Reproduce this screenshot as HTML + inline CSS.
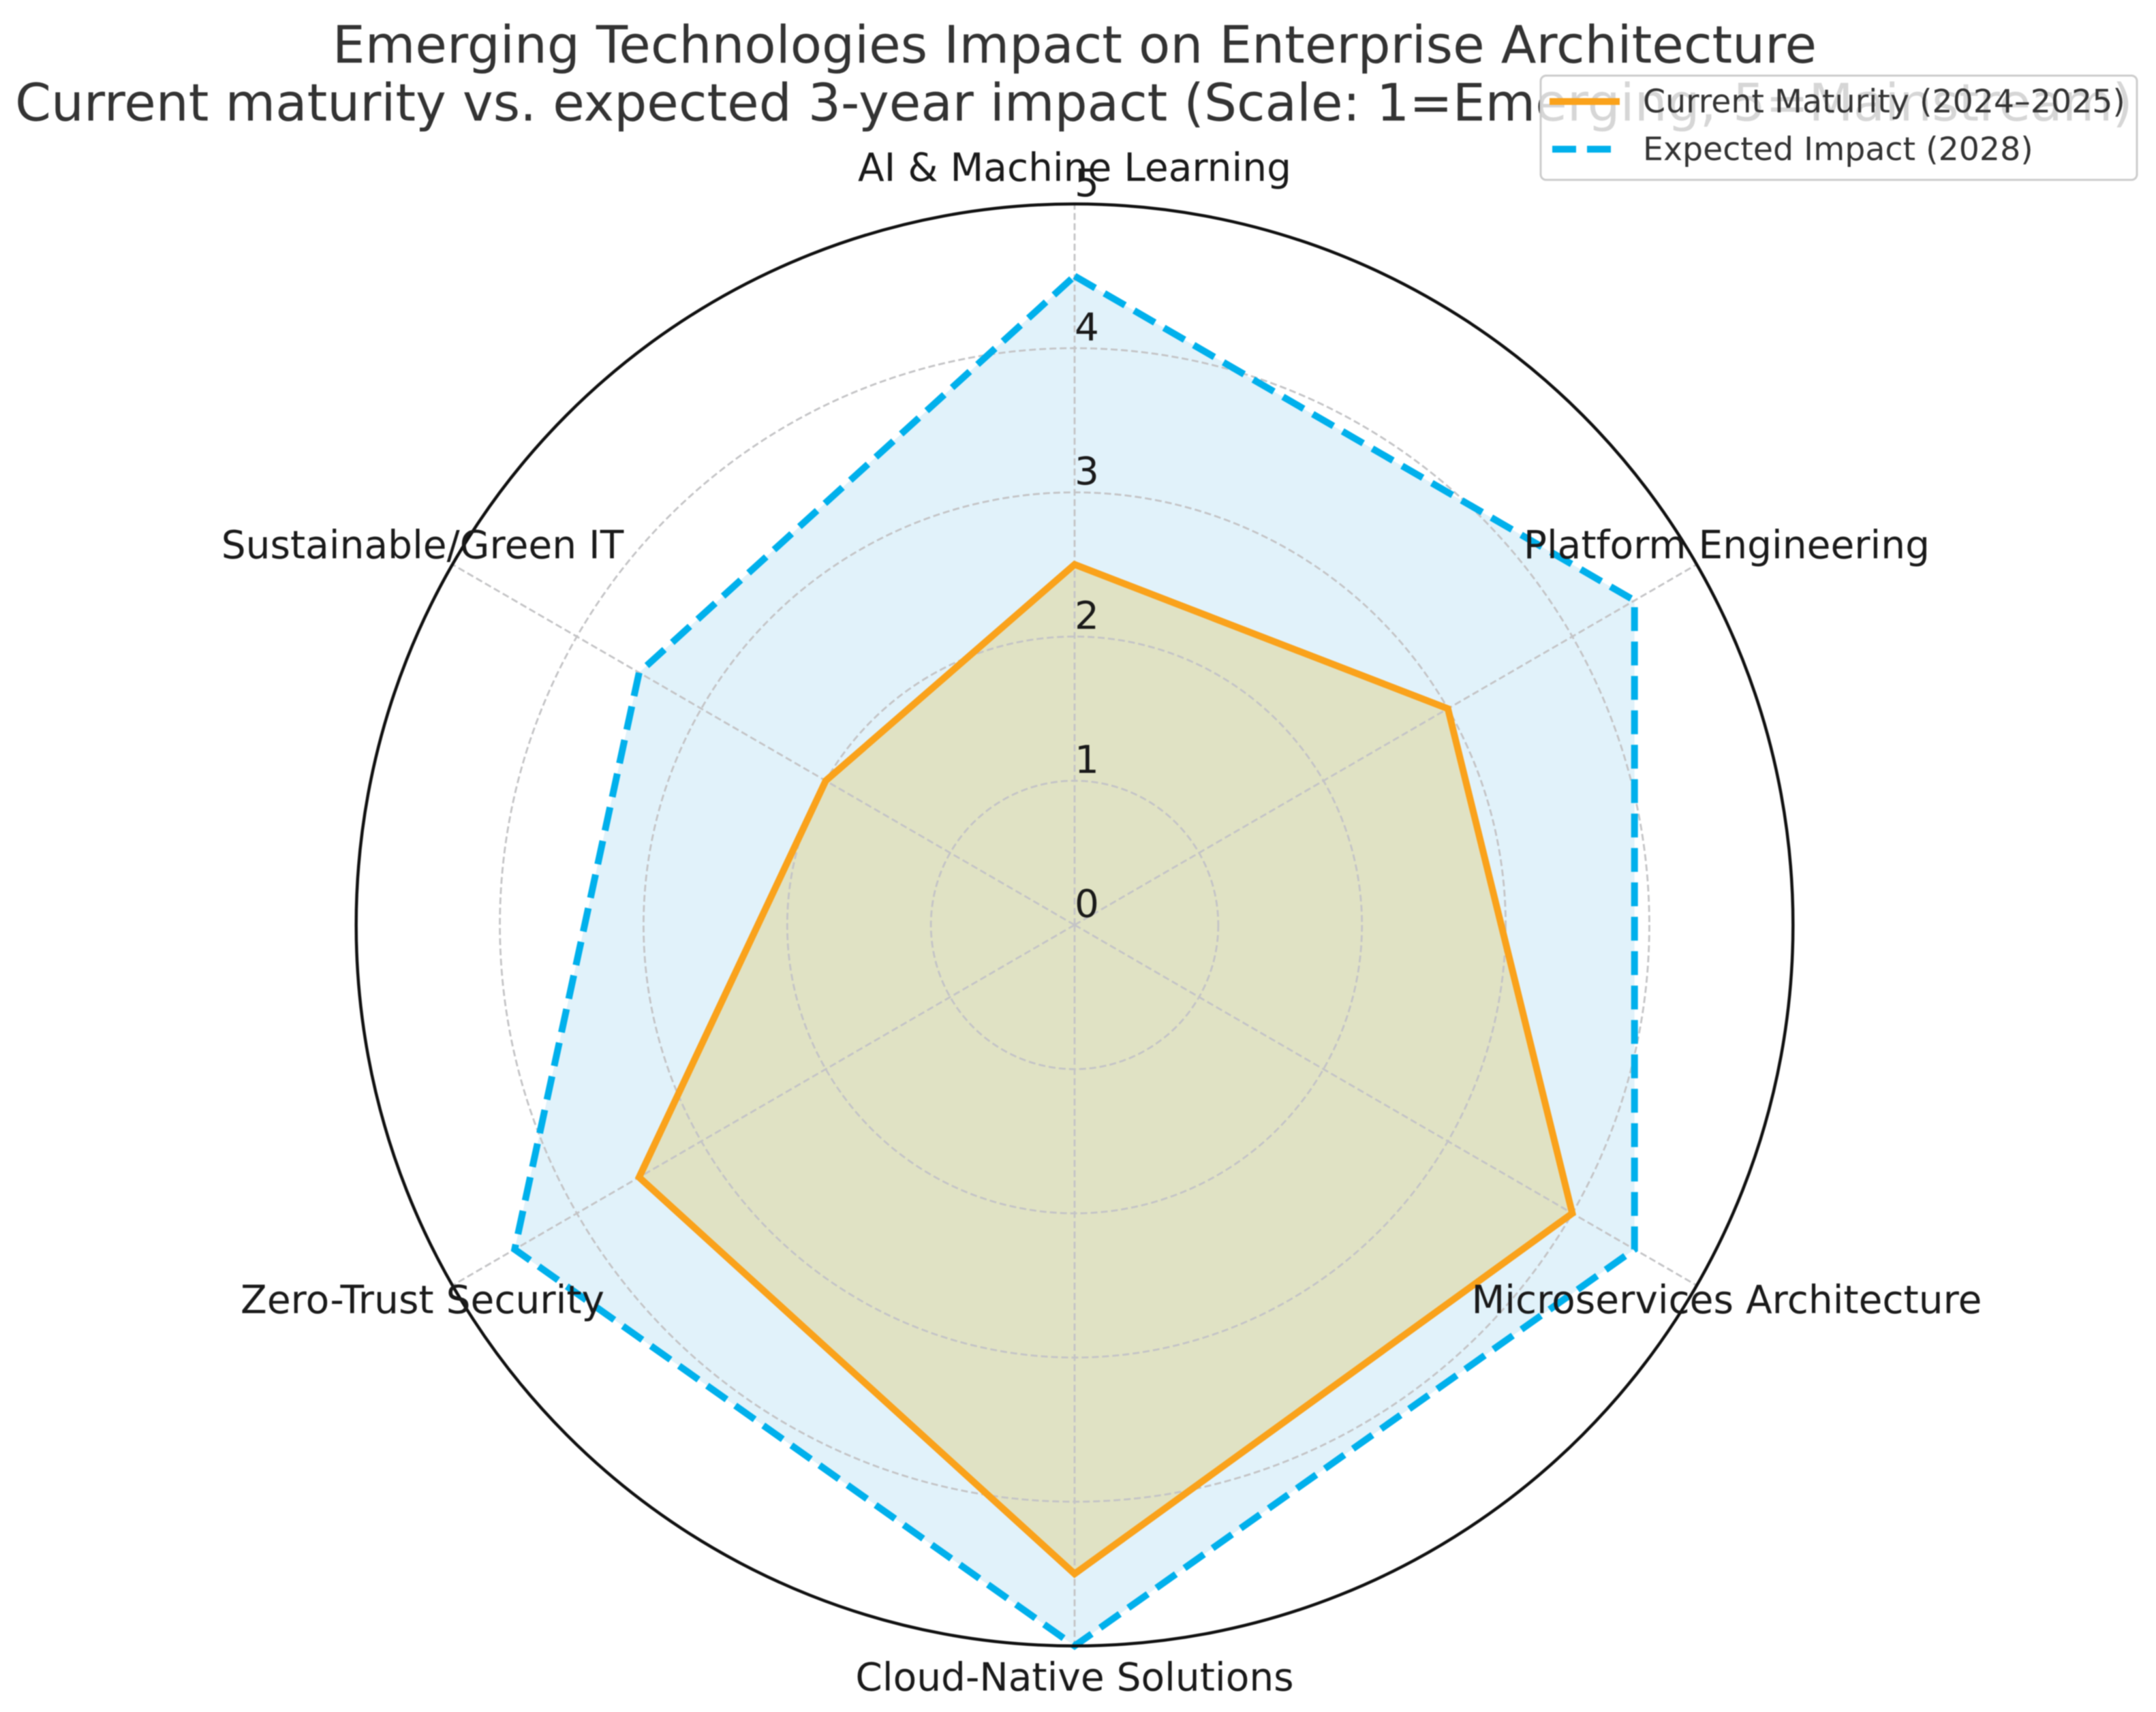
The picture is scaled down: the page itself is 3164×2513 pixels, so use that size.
<!DOCTYPE html>
<html lang="en">
<head>
<meta charset="utf-8">
<title>Emerging Technologies Impact on Enterprise Architecture</title>
<style>
html,body{margin:0;padding:0;background:#fff;}
svg{display:block;font-family:"DejaVu Sans","Liberation Sans",sans-serif;filter:blur(0.9px);}
</style>
</head>
<body>
<svg id="chart" xmlns="http://www.w3.org/2000/svg" width="3164" height="2513" viewBox="0 0 3164 2513">
  <rect x="0" y="0" width="3164" height="2513" fill="#ffffff"/>
  <g id="fills"></g>
  <g id="grid"></g>
  <g id="lines"></g>
  <ellipse id="spine" fill="none" stroke="#111111" stroke-width="4.5"/>
  <g id="ticks"></g>
  <g id="cats"></g>
  <g fill="#333333" font-size="75.7" text-anchor="middle">
    <text x="1577" y="92">Emerging Technologies Impact on Enterprise Architecture</text>
    <text x="1576" y="177">Current maturity vs. expected 3-year impact (Scale: 1=Emerging, 5=Mainstream)</text>
  </g>
  <g>
    <rect x="2261" y="111" width="875" height="153" rx="8" ry="8" fill="#ffffff" fill-opacity="0.8" stroke="#cccccc" stroke-width="3"/>
    <line x1="2274" y1="149" x2="2377" y2="149" stroke="#FAA21B" stroke-width="10"/>
    <text x="2411" y="165" font-size="47.4" fill="#333333">Current Maturity (2024–2025)</text>
    <line x1="2278" y1="219" x2="2364" y2="219" stroke="#00B0EC" stroke-width="10" stroke-dasharray="35 16"/>
    <text x="2411" y="235" font-size="47.4" fill="#333333">Expected Impact (2028)</text>
  </g>
</svg>
<script>
const categories = ["AI & Machine Learning", "Platform Engineering", "Microservices Architecture", "Cloud-Native Solutions", "Zero-Trust Security", "Sustainable/Green IT"];
const currentMaturity = [2.5, 3.0, 4.0, 4.5, 3.5, 2.0];
const expectedImpact = [4.5, 4.5, 4.5, 5.0, 4.5, 3.5];
const tickValues = [0, 1, 2, 3, 4, 5];
const tickLabels = ["0", "1", "2", "3", "4", "5"];

const NS = "http://www.w3.org/2000/svg";
const CX = 1577, CY = 1357.7, RADIUS_X = 1054.3, RADIUS_Y = 1058.3, RMAX = 5;
const LABEL_RX = 1105, LABEL_RY = 1108, LABEL_DY = 16;

function rxScale(v) { return v / RMAX * RADIUS_X; }
function ryScale(v) { return v / RMAX * RADIUS_Y; }
function angle(i) { return i / categories.length * 2 * Math.PI; }
function px(i, v) { return CX + rxScale(v) * Math.sin(angle(i)); }
function py(i, v) { return CY - ryScale(v) * Math.cos(angle(i)); }
function points(values) {
  return values.map(function (v, i) { return px(i, v).toFixed(1) + "," + py(i, v).toFixed(1); }).join(" ");
}
function make(tag, attrs, parent) {
  const el = document.createElementNS(NS, tag);
  for (const k in attrs) el.setAttribute(k, attrs[k]);
  parent.appendChild(el);
  return el;
}

const fills = document.getElementById("fills");
const grid = document.getElementById("grid");
const lines = document.getElementById("lines");
const ticks = document.getElementById("ticks");
const cats = document.getElementById("cats");

const spine = document.getElementById("spine");
spine.setAttribute("cx", CX);
spine.setAttribute("cy", CY);
spine.setAttribute("rx", rxScale(RMAX));
spine.setAttribute("ry", ryScale(RMAX));

const expectedFill = make("polygon", { points: points(expectedImpact), fill: "#E1F2FA" }, fills);


const currentFill = make("polygon", { points: points(currentMaturity), fill: "#E0E2C4" }, fills);



tickValues.forEach(function (v) {
  if (v === 0 || v === RMAX) return;
  const ring = make("ellipse", { cx: CX, cy: CY, rx: rxScale(v), ry: ryScale(v), fill: "none", stroke: "#c4c4c6", "stroke-width": 2.8, "stroke-dasharray": "10 5" }, grid);
  
  
});
categories.forEach(function (c, i) {
  const spoke = make("line", { x1: CX, y1: CY, x2: px(i, RMAX), y2: py(i, RMAX), stroke: "#c4c4c6", "stroke-width": 2.8, "stroke-dasharray": "10 5" }, grid);
  
  
});

const expectedLine = make("polygon", { points: points(expectedImpact), fill: "none", stroke: "#00B0EC", "stroke-width": 10, "stroke-dasharray": "35 15.5", "stroke-linejoin": "miter" }, lines);


const currentLine = make("polygon", { points: points(currentMaturity), fill: "none", stroke: "#FAA21B", "stroke-width": 10, "stroke-linejoin": "miter" }, lines);



tickValues.forEach(function (v, i) {
  const t = make("text", { x: CX + 18, y: CY - 11.5 - ryScale(v), "font-size": 56.4, "text-anchor": "middle", fill: "#1a1a1a" }, ticks);
  
  
  t.textContent = tickLabels[i];
});

categories.forEach(function (c, i) {
  const t = make("text", {
    x: CX + LABEL_RX * Math.sin(angle(i)),
    y: CY + LABEL_DY - LABEL_RY * Math.cos(angle(i)),
    "font-size": 56.6, "text-anchor": "middle", fill: "#1a1a1a"
  }, cats);
  
  
  t.textContent = c;
});
</script>
</body>
</html>
